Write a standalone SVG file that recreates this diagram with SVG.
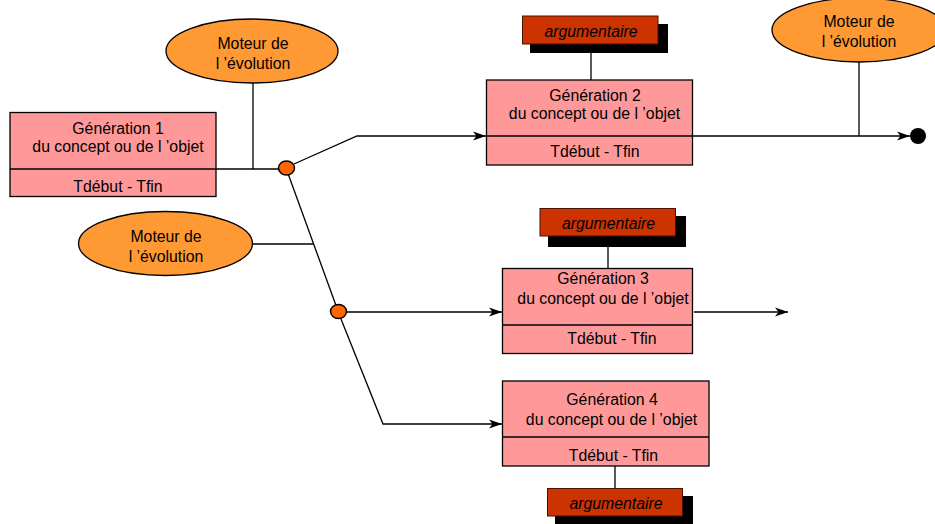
<svg xmlns="http://www.w3.org/2000/svg" width="935" height="524" viewBox="0 0 935 524">
<defs>
<marker id="arr" markerWidth="14" markerHeight="10" refX="13" refY="5" orient="auto" markerUnits="userSpaceOnUse">
<path d="M0,0.5 L13,5 L0,9.5 L3.5,5 z" fill="#000"/>
</marker>
<style>
.gen{fill:#FF9999;stroke:#000;stroke-width:1.3}
.mot{fill:#FF9933;stroke:#000;stroke-width:1.3}
.arg{fill:#CC3300;stroke:#4a1000;stroke-width:1}
.sh{fill:#000}
.dot{fill:#FF6600;stroke:#000;stroke-width:1.5}
.ln{fill:none;stroke:#000;stroke-width:1.3}
text{font-family:"Liberation Sans",Arial,sans-serif;font-size:15.8px;fill:#000;text-anchor:middle}
.it{font-style:italic}
</style>
</defs>
<g id="connectors">
<polyline class="ln" points="216,169 279,169"/>
<polyline class="ln" points="253,83 253,169"/>
<line class="ln" x1="286" y1="168" x2="338" y2="311"/>
<line class="ln" x1="252" y1="244" x2="313.5" y2="244"/>
<polyline class="ln" points="294,164 357,136 486,136" marker-end="url(#arr)"/>
<polyline class="ln" points="692,136 910,136" marker-end="url(#arr)"/>
<polyline class="ln" points="859,62 859,136"/>
<polyline class="ln" points="591,53 591,80"/>
<polyline class="ln" points="346,312 502,312" marker-end="url(#arr)"/>
<polyline class="ln" points="341,319 383,424 502,424" marker-end="url(#arr)"/>
<polyline class="ln" points="694,312 788,312" marker-end="url(#arr)"/>
<polyline class="ln" points="608,246 608,268"/>
<polyline class="ln" points="615,466 615,488"/>
</g>
<g id="junction1"><ellipse class="dot" cx="286.5" cy="168" rx="8" ry="7"/></g>
<g id="junction2"><ellipse class="dot" cx="338.5" cy="311.5" rx="8" ry="7"/></g>
<g id="end"><circle cx="918" cy="136" r="8" fill="#000"/></g>
<g id="moteur1">
<ellipse class="mot" cx="252" cy="51" rx="86" ry="32"/>
<text x="253" y="49">Moteur de</text>
<text x="253" y="69">l ’évolution</text>
</g>
<g id="moteur2">
<ellipse class="mot" cx="165.5" cy="243.5" rx="87" ry="32"/>
<text x="166" y="242">Moteur de</text>
<text x="166" y="262">l ’évolution</text>
</g>
<g id="moteur3">
<ellipse class="mot" cx="859" cy="30" rx="87" ry="32"/>
<text x="859" y="27">Moteur de</text>
<text x="859" y="47">l ’évolution</text>
</g>
<g id="gen1">
<rect class="gen" x="10" y="112.5" width="206" height="84"/>
<line class="ln" x1="10" y1="169" x2="216" y2="169"/>
<text x="118" y="133.5">Génération 1</text>
<text x="118" y="152">du concept ou de l ’objet</text>
<text x="118" y="192">Tdébut - Tfin</text>
</g>
<g id="gen2">
<rect class="gen" x="486.5" y="80" width="206" height="85"/>
<line class="ln" x1="486.5" y1="136" x2="692.5" y2="136"/>
<text x="595" y="101">Génération 2</text>
<text x="594.5" y="119">du concept ou de l ’objet</text>
<text x="595" y="157">Tdébut - Tfin</text>
</g>
<g id="arg2">
<rect class="sh" x="530" y="24" width="138" height="29"/>
<rect class="arg" x="522.5" y="16" width="135.5" height="28"/>
<text class="it" x="591" y="37">argumentaire</text>
</g>
<g id="gen3">
<rect class="gen" x="502.5" y="268.5" width="190" height="85"/>
<line class="ln" x1="502.5" y1="325" x2="692.5" y2="325"/>
<text x="603" y="284">Génération 3</text>
<text x="603" y="303.5">du concept ou de l ’objet</text>
<text x="612" y="343.5">Tdébut - Tfin</text>
</g>
<g id="arg3">
<rect class="sh" x="548" y="216" width="138" height="31"/>
<rect class="arg" x="540" y="208.5" width="135.5" height="27.5"/>
<text class="it" x="608.5" y="228.5">argumentaire</text>
</g>
<g id="gen4">
<rect class="gen" x="502.5" y="381" width="206.5" height="85"/>
<line class="ln" x1="502.5" y1="437" x2="709" y2="437"/>
<text x="612" y="405">Génération 4</text>
<text x="611.5" y="424.5">du concept ou de l ’objet</text>
<text x="613.5" y="461">Tdébut - Tfin</text>
</g>
<g id="arg4">
<rect class="sh" x="555" y="496" width="138" height="30"/>
<rect class="arg" x="547.5" y="488.5" width="135" height="27.5"/>
<text class="it" x="616" y="508.5">argumentaire</text>
</g>
</svg>
